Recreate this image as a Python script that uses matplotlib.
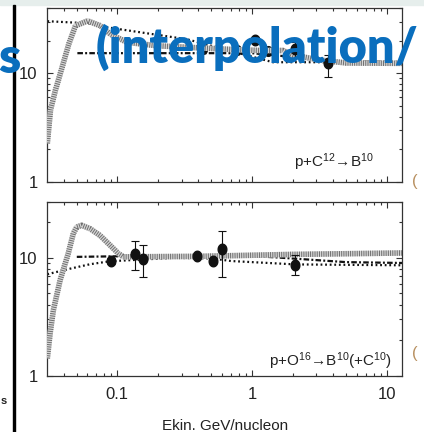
import matplotlib
matplotlib.use('Agg')
import matplotlib.pyplot as plt
import numpy as np
from matplotlib import font_manager as fm
from matplotlib.path import Path
from matplotlib.patches import Rectangle
from matplotlib.ticker import FixedLocator, FixedFormatter, LogLocator, NullFormatter

# ---------------- data ----------------
# top panel: p+C12 -> B10
top_band_E = [0.0302, 0.0319, 0.0347, 0.0389, 0.0436, 0.0489, 0.0602, 0.0749, 0.0887, 0.118, 0.20, 0.35, 0.75, 1.15, 1.70, 2.0, 3.2, 5.0, 13.0]
top_band_v = [2.26, 4.6, 7.0, 11.4, 18.7, 27.6, 30.6, 27.6, 23.1, 19.4, 18.0, 17.4, 16.6, 16.3, 16.3, 14.8, 13.3, 12.5, 12.4]
top_dot_E = [0.0302, 0.0597, 0.0838, 0.166, 0.329, 1.43, 13.0]
top_dot_v = [30.4, 29.1, 26.7, 23.5, 20.7, 12.7, 12.7]
top_dd_E = [0.0505, 1.0, 2.0, 4.0, 13.0]
top_dd_v = [15.4, 15.4, 14.2, 13.0, 12.8]
top_pts_E = [1.05, 2.08, 3.66]
top_pts_v = [20.3, 16.8, 12.4]
top_pts_lo = [19.2, 13.8, 9.25]
top_pts_hi = [21.5, 19.4, 14.7]
top_hidden_E = [0.43, 0.77, 1.32]
top_hidden_v = [16.8, 16.4, 16.2]

# bottom panel: p+O16 -> B10(+C10)
bot_band_E = [0.0302, 0.0317, 0.0335, 0.0376, 0.0432, 0.0471, 0.050, 0.0544, 0.0627, 0.0744, 0.0883, 0.1017, 0.111, 0.4, 2.0, 13.0]
bot_band_v = [1.4, 2.3, 3.6, 6.46, 10.9, 16.1, 18.3, 18.9, 17.7, 15.5, 12.8, 10.9, 10.2, 10.3, 10.7, 11.0]
bot_dot_E = [0.0302, 0.0426, 0.0627, 0.0883, 0.26, 0.5, 0.7, 2.1, 13.0]
bot_dot_v = [7.26, 8.0, 8.83, 9.36, 10.0, 9.9, 9.4, 8.8, 8.65]
bot_dd_E = [0.050, 0.3, 0.7, 1.5, 5.0, 13.0]
bot_dd_v = [10.2, 10.5, 10.6, 10.1, 9.2, 9.05]
bot_pts_E = [0.0903, 0.136, 0.156, 0.389, 0.516, 0.597, 2.08]
bot_pts_v = [9.36, 10.87, 9.86, 10.3, 9.42, 11.8, 8.78]
bot_pts_lo = [8.9, 7.87, 6.88, 9.9, 9.0, 6.88, 7.13]
bot_pts_hi = [9.9, 13.8, 12.9, 10.8, 9.9, 16.8, 10.5]

xticks = [0.1, 1, 10]
xticklabels = ['0.1', '1', '10']
yticks = [1, 10]
yticklabels = ['1', '10']
xlabel = 'Ekin. GeV/nucleon'
label_top = r'p+C$^{12}$→B$^{10}$'
label_bot = r'p+O$^{16}$→B$^{10}$(+C$^{10}$)'

# ---------------- fonts ----------------
names = {f.name for f in fm.fontManager.ttflist}
if 'Liberation Sans Narrow' in names:
    NARROW, FS, FT = 'Liberation Sans Narrow', 13, 13
else:
    NARROW, FS, FT = 'Liberation Sans', 11, 12
plt.rcParams['font.family'] = [NARROW, 'DejaVu Sans']
plt.rcParams['mathtext.fontset'] = 'custom'
plt.rcParams['mathtext.rm'] = NARROW
plt.rcParams['mathtext.it'] = NARROW
plt.rcParams['mathtext.bf'] = NARROW
plt.rcParams['lines.scale_dashes'] = False

W, H = 424, 432
fig = plt.figure(figsize=(W / 100, H / 100), dpi=100)
fig.patch.set_facecolor('white')

def fx(px):
    return px / W

def fy(py):
    return 1 - py / H

L, R = 47.3, 402.3
ax1 = fig.add_axes([fx(L), fy(181.7), (R - L) / W, (181.7 - 8.3) / H])
ax2 = fig.add_axes([fx(L), fy(375.6), (R - L) / W, (375.6 - 201.7) / H])

# ellipse marker (slightly taller than wide)
t = np.linspace(0, 2 * np.pi, 40)
ell = Path(np.column_stack([0.41 * np.cos(t), 0.5 * np.sin(t)]), closed=True)

INK = '#111111'

def style(ax, ytop, show_x):
    ax.set_xscale('log')
    ax.set_yscale('log')
    ax.set_xlim(0.0302, 13.05)
    ax.set_ylim(1, ytop)
    ax.xaxis.set_major_locator(FixedLocator(xticks))
    ax.xaxis.set_minor_locator(LogLocator(base=10, subs=np.arange(2, 10)))
    ax.yaxis.set_major_locator(FixedLocator(yticks))
    ax.yaxis.set_major_formatter(FixedFormatter(yticklabels))
    ax.yaxis.set_minor_locator(LogLocator(base=10, subs=np.arange(2, 10)))
    ax.yaxis.set_minor_formatter(NullFormatter())
    ax.xaxis.set_minor_formatter(NullFormatter())
    if show_x:
        ax.xaxis.set_major_formatter(FixedFormatter(xticklabels))
    else:
        ax.xaxis.set_major_formatter(NullFormatter())
    ax.tick_params(which='both', direction='in', top=True, right=True,
                   color='#333333', width=0.8, labelsize=FT, labelcolor='#222222')
    ax.tick_params(which='major', length=4.0)
    ax.tick_params(which='minor', length=2.4)
    ax.tick_params(axis='x', pad=8.5)
    ax.tick_params(axis='y', pad=7.0)
    for s in ax.spines.values():
        s.set_linewidth(0.9)
        s.set_color('#333333')

def band(ax, E, v):
    ax.plot(E, v, color='#d6d6d6', lw=4.0, solid_capstyle='butt', zorder=3)
    ax.plot(E, v, color='#6e6e6e', lw=4.0, dashes=(0.7, 0.9), dash_capstyle='butt', zorder=3.1)

def dotted(ax, E, v):
    ax.plot(E, v, color=INK, lw=1.6, dashes=(1.3, 2.0), dash_capstyle='butt', zorder=2.5)

def dashdot(ax, E, v):
    ax.plot(E, v, color=INK, lw=1.6, dashes=(4.0, 1.6, 1.4, 1.6), dash_capstyle='butt', zorder=2.5)

def points(ax, E, v, lo, hi, z=5):
    v = np.asarray(v)
    yerr = [v - np.asarray(lo), np.asarray(hi) - v]
    ax.errorbar(E, v, yerr=yerr, fmt='none', ecolor=INK, elinewidth=0.8,
                capsize=2.6, capthick=0.8, zorder=z)
    ax.plot(E, v, ls='none', marker=ell, ms=7.6, color=INK, zorder=z + 1)

style(ax1, 40, False)
style(ax2, 30, True)

dotted(ax1, top_dot_E, top_dot_v)
dashdot(ax1, top_dd_E, top_dd_v)
ax1.plot(top_hidden_E, top_hidden_v, ls='none', marker=ell, ms=7.0, color=INK, zorder=2.8)
band(ax1, top_band_E, top_band_v)
points(ax1, top_pts_E, top_pts_v, top_pts_lo, top_pts_hi)

dotted(ax2, bot_dot_E, bot_dot_v)
dashdot(ax2, bot_dd_E, bot_dd_v)
band(ax2, bot_band_E, bot_band_v)
points(ax2, bot_pts_E, bot_pts_v, bot_pts_lo, bot_pts_hi)

fig.text(fx(294), fy(167), label_top, fontsize=FS, color='#222222', ha='left', va='baseline')
fig.text(fx(269), fy(366), label_bot, fontsize=FS, color='#222222', ha='left', va='baseline')
fig.text(fx((L + R) / 2), fy(430), xlabel, fontsize=FS, color='#222222', ha='center', va='baseline')

# ---------------- slide elements around the chart ----------------
fig.add_artist(Rectangle((0, fy(5)), 1, 5 / H, transform=fig.transFigure,
                         color='#e6eeec', zorder=9))
fig.add_artist(Rectangle((fx(12.7), 0), 2.7 / W, fy(5), transform=fig.transFigure,
                         color='black', zorder=9))
BLUE = '#0a6ebd'
fig.text(fx(96), fy(63), '(interpolation/', fontsize=35, fontweight='heavy',
         family='Lato', color=BLUE, ha='left', va='baseline', zorder=12)
fig.text(fx(-1.5), fy(73), 's', fontsize=36, fontweight='heavy',
         family='Lato', color=BLUE, ha='left', va='baseline', zorder=12)
fig.text(fx(338), fy(3), 'ource', fontsize=16, fontweight='bold',
         family='Lato', color=BLUE, ha='left', va='baseline', zorder=8)
fig.text(fx(0.5), fy(404), 's', fontsize=8, fontweight='bold', color='#222222',
         ha='left', va='baseline', zorder=12)
for yy in (186, 358):
    fig.text(fx(412), fy(yy), '(', fontsize=12, color='#b89060',
             ha='left', va='baseline', zorder=12)

fig.savefig('out.png', dpi=100, facecolor='white')
